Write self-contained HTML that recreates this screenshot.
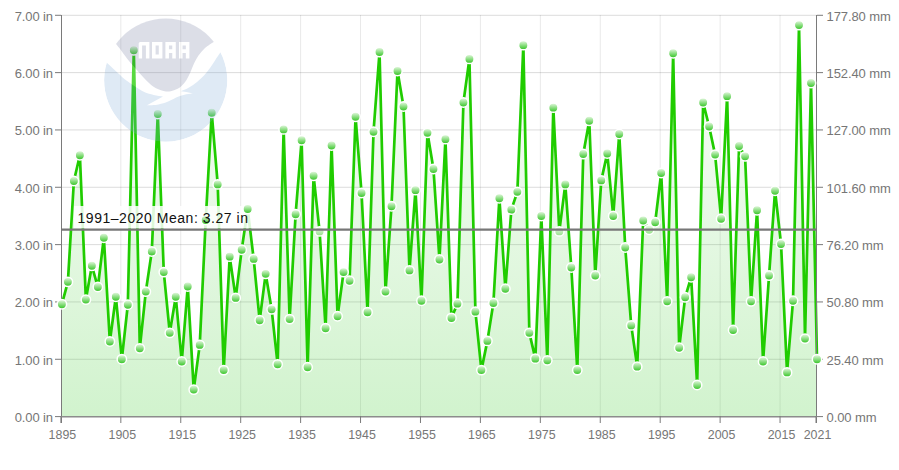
<!DOCTYPE html>
<html><head><meta charset="utf-8"><style>
html,body{margin:0;padding:0;background:#fff;}
svg{display:block;font-family:"Liberation Sans",sans-serif;}
.lab text{font-size:13px;fill:#767676;letter-spacing:-0.1px;}
.lab text.yl{font-size:12.4px;letter-spacing:0;}
</style></head><body>
<svg width="899" height="470" viewBox="0 0 899 470">
<defs>
<clipPath id="lc"><circle cx="165.7" cy="80.2" r="61.6"/></clipPath>
<linearGradient id="ag" x1="0" y1="0" x2="0" y2="1" gradientUnits="objectBoundingBox">
<stop offset="0" stop-color="#2ec81e" stop-opacity="0.02"/>
<stop offset="1" stop-color="#2ec81e" stop-opacity="0.22"/>
</linearGradient>
<linearGradient id="mg" x1="0" y1="0" x2="0" y2="1">
<stop offset="0" stop-color="#ecfae8"/>
<stop offset="1" stop-color="#2ec31e"/>
</linearGradient>
<linearGradient id="mg2" x1="0" y1="0" x2="0" y2="1">
<stop offset="0" stop-color="#f0fbee"/>
<stop offset="1" stop-color="#90de84"/>
</linearGradient>
</defs>
<rect width="899" height="470" fill="#fff"/>
<g stroke="#000" stroke-opacity="0.14" stroke-width="1"><line x1="61" x2="817" y1="359.27" y2="359.27"/><line x1="61" x2="817" y1="301.94" y2="301.94"/><line x1="61" x2="817" y1="244.61" y2="244.61"/><line x1="61" x2="817" y1="187.28" y2="187.28"/><line x1="61" x2="817" y1="129.95" y2="129.95"/><line x1="61" x2="817" y1="72.62" y2="72.62"/><line x1="61" x2="817" y1="15.29" y2="15.29"/><line x1="120.83" x2="120.83" y1="15" y2="416" stroke="#000" stroke-opacity="0.09"/><line x1="180.76" x2="180.76" y1="15" y2="416" stroke="#000" stroke-opacity="0.09"/><line x1="240.69" x2="240.69" y1="15" y2="416" stroke="#000" stroke-opacity="0.09"/><line x1="300.61" x2="300.61" y1="15" y2="416" stroke="#000" stroke-opacity="0.09"/><line x1="360.54" x2="360.54" y1="15" y2="416" stroke="#000" stroke-opacity="0.09"/><line x1="420.47" x2="420.47" y1="15" y2="416" stroke="#000" stroke-opacity="0.09"/><line x1="480.40" x2="480.40" y1="15" y2="416" stroke="#000" stroke-opacity="0.09"/><line x1="540.33" x2="540.33" y1="15" y2="416" stroke="#000" stroke-opacity="0.09"/><line x1="600.26" x2="600.26" y1="15" y2="416" stroke="#000" stroke-opacity="0.09"/><line x1="660.19" x2="660.19" y1="15" y2="416" stroke="#000" stroke-opacity="0.09"/><line x1="720.11" x2="720.11" y1="15" y2="416" stroke="#000" stroke-opacity="0.09"/><line x1="780.04" x2="780.04" y1="15" y2="416" stroke="#000" stroke-opacity="0.09"/></g>
<path d="M61.90 304.20 L67.89 281.85 L73.89 180.98 L79.88 155.19 L85.87 299.61 L91.86 265.80 L97.86 287.01 L103.85 237.72 L109.84 341.45 L115.84 296.75 L121.83 359.22 L127.82 304.77 L133.81 50.32 L139.81 348.33 L145.80 291.59 L151.79 251.47 L157.79 113.93 L163.78 272.11 L169.77 332.85 L175.76 296.75 L181.76 361.51 L187.75 286.43 L193.74 389.59 L199.74 344.89 L205.73 219.95 L211.72 112.78 L217.71 184.42 L223.71 370.11 L229.70 256.63 L235.69 297.90 L241.69 249.75 L247.68 209.06 L253.67 258.92 L259.66 320.25 L265.66 273.83 L271.65 309.36 L277.64 364.37 L283.64 129.40 L289.63 319.10 L295.62 214.22 L301.61 140.29 L307.61 367.24 L313.60 175.82 L319.59 231.42 L325.59 328.27 L331.58 145.45 L337.57 316.23 L343.56 272.11 L349.56 280.70 L355.55 116.80 L361.54 193.02 L367.54 312.22 L373.53 131.70 L379.52 52.04 L385.51 291.59 L391.51 206.20 L397.50 70.95 L403.49 106.48 L409.49 270.39 L415.48 190.15 L421.47 300.76 L427.46 132.84 L433.46 168.95 L439.45 259.50 L445.44 139.15 L451.44 317.95 L457.43 303.63 L463.42 102.47 L469.41 58.91 L475.41 311.65 L481.40 370.11 L487.39 340.88 L493.39 303.05 L499.38 198.18 L505.37 288.73 L511.36 209.64 L517.36 191.87 L523.35 45.16 L529.34 332.85 L535.34 358.64 L541.33 215.94 L547.32 360.36 L553.31 107.63 L559.31 231.42 L565.30 184.42 L571.29 267.52 L577.29 370.11 L583.28 154.05 L589.27 120.81 L595.26 275.54 L601.26 180.41 L607.25 153.47 L613.24 215.94 L619.24 133.99 L625.23 247.46 L631.22 325.40 L637.21 366.67 L643.21 220.53 L649.20 229.70 L655.19 222.25 L661.19 172.96 L667.18 301.33 L673.17 53.18 L679.16 347.75 L685.16 297.32 L691.15 277.26 L697.14 385.01 L703.14 102.47 L709.13 126.54 L715.12 154.62 L721.11 218.81 L727.11 96.16 L733.10 329.99 L739.09 146.02 L745.09 156.34 L751.08 301.33 L757.07 210.21 L763.06 361.51 L769.06 275.54 L775.05 190.73 L781.04 244.02 L787.04 372.40 L793.03 300.76 L799.02 25.10 L805.01 338.59 L811.01 82.98 L817.00 359.22 L817.00 417.10 L61.90 417.10 Z" fill="url(#ag)"/>
<path d="M61.90 304.20 L67.89 281.85 L73.89 180.98 L79.88 155.19 L85.87 299.61 L91.86 265.80 L97.86 287.01 L103.85 237.72 L109.84 341.45 L115.84 296.75 L121.83 359.22 L127.82 304.77 L133.81 50.32 L139.81 348.33 L145.80 291.59 L151.79 251.47 L157.79 113.93 L163.78 272.11 L169.77 332.85 L175.76 296.75 L181.76 361.51 L187.75 286.43 L193.74 389.59 L199.74 344.89 L205.73 219.95 L211.72 112.78 L217.71 184.42 L223.71 370.11 L229.70 256.63 L235.69 297.90 L241.69 249.75 L247.68 209.06 L253.67 258.92 L259.66 320.25 L265.66 273.83 L271.65 309.36 L277.64 364.37 L283.64 129.40 L289.63 319.10 L295.62 214.22 L301.61 140.29 L307.61 367.24 L313.60 175.82 L319.59 231.42 L325.59 328.27 L331.58 145.45 L337.57 316.23 L343.56 272.11 L349.56 280.70 L355.55 116.80 L361.54 193.02 L367.54 312.22 L373.53 131.70 L379.52 52.04 L385.51 291.59 L391.51 206.20 L397.50 70.95 L403.49 106.48 L409.49 270.39 L415.48 190.15 L421.47 300.76 L427.46 132.84 L433.46 168.95 L439.45 259.50 L445.44 139.15 L451.44 317.95 L457.43 303.63 L463.42 102.47 L469.41 58.91 L475.41 311.65 L481.40 370.11 L487.39 340.88 L493.39 303.05 L499.38 198.18 L505.37 288.73 L511.36 209.64 L517.36 191.87 L523.35 45.16 L529.34 332.85 L535.34 358.64 L541.33 215.94 L547.32 360.36 L553.31 107.63 L559.31 231.42 L565.30 184.42 L571.29 267.52 L577.29 370.11 L583.28 154.05 L589.27 120.81 L595.26 275.54 L601.26 180.41 L607.25 153.47 L613.24 215.94 L619.24 133.99 L625.23 247.46 L631.22 325.40 L637.21 366.67 L643.21 220.53 L649.20 229.70 L655.19 222.25 L661.19 172.96 L667.18 301.33 L673.17 53.18 L679.16 347.75 L685.16 297.32 L691.15 277.26 L697.14 385.01 L703.14 102.47 L709.13 126.54 L715.12 154.62 L721.11 218.81 L727.11 96.16 L733.10 329.99 L739.09 146.02 L745.09 156.34 L751.08 301.33 L757.07 210.21 L763.06 361.51 L769.06 275.54 L775.05 190.73 L781.04 244.02 L787.04 372.40 L793.03 300.76 L799.02 25.10 L805.01 338.59 L811.01 82.98 L817.00 359.22" fill="none" stroke="#20cc00" stroke-width="2.7" stroke-linejoin="round" stroke-linecap="round"/>
<g stroke="#7a7a7a" stroke-width="1">
<line x1="61.5" x2="61.5" y1="15" y2="423"/>
<line x1="816.5" x2="816.5" y1="15" y2="423"/>
<line x1="61" x2="817" y1="416.7" y2="416.7" stroke-width="1.5" stroke="#8c8c8c"/>
<line x1="55" x2="61" y1="416.6" y2="416.6"/><line x1="817" x2="823" y1="416.6" y2="416.6"/><line x1="55" x2="61" y1="359.27" y2="359.27"/><line x1="817" x2="823" y1="359.27" y2="359.27"/><line x1="55" x2="61" y1="301.94" y2="301.94"/><line x1="817" x2="823" y1="301.94" y2="301.94"/><line x1="55" x2="61" y1="244.61" y2="244.61"/><line x1="817" x2="823" y1="244.61" y2="244.61"/><line x1="55" x2="61" y1="187.28" y2="187.28"/><line x1="817" x2="823" y1="187.28" y2="187.28"/><line x1="55" x2="61" y1="129.95" y2="129.95"/><line x1="817" x2="823" y1="129.95" y2="129.95"/><line x1="55" x2="61" y1="72.62" y2="72.62"/><line x1="817" x2="823" y1="72.62" y2="72.62"/><line x1="55" x2="61" y1="15.29" y2="15.29"/><line x1="817" x2="823" y1="15.29" y2="15.29"/><line x1="60.90" x2="60.90" y1="416" y2="423"/><line x1="120.83" x2="120.83" y1="416" y2="423"/><line x1="180.76" x2="180.76" y1="416" y2="423"/><line x1="240.69" x2="240.69" y1="416" y2="423"/><line x1="300.61" x2="300.61" y1="416" y2="423"/><line x1="360.54" x2="360.54" y1="416" y2="423"/><line x1="420.47" x2="420.47" y1="416" y2="423"/><line x1="480.40" x2="480.40" y1="416" y2="423"/><line x1="540.33" x2="540.33" y1="416" y2="423"/><line x1="600.26" x2="600.26" y1="416" y2="423"/><line x1="660.19" x2="660.19" y1="416" y2="423"/><line x1="720.11" x2="720.11" y1="416" y2="423"/><line x1="780.04" x2="780.04" y1="416" y2="423"/><line x1="816.00" x2="816.00" y1="416" y2="423"/>
</g>
<rect x="74" y="206" width="179" height="22.5" fill="#fff" fill-opacity="0.85"/>
<g fill="url(#mg)" stroke="#fff" stroke-width="1.5"><circle cx="61.90" cy="304.20" r="4.7"/><circle cx="67.89" cy="281.85" r="4.7"/><circle cx="73.89" cy="180.98" r="4.7"/><circle cx="79.88" cy="155.19" r="4.7"/><circle cx="85.87" cy="299.61" r="4.7"/><circle cx="91.86" cy="265.80" r="4.7"/><circle cx="97.86" cy="287.01" r="4.7"/><circle cx="103.85" cy="237.72" r="4.7"/><circle cx="109.84" cy="341.45" r="4.7"/><circle cx="115.84" cy="296.75" r="4.7"/><circle cx="121.83" cy="359.22" r="4.7"/><circle cx="127.82" cy="304.77" r="4.7"/><circle cx="133.81" cy="50.32" r="4.7"/><circle cx="139.81" cy="348.33" r="4.7"/><circle cx="145.80" cy="291.59" r="4.7"/><circle cx="151.79" cy="251.47" r="4.7"/><circle cx="157.79" cy="113.93" r="4.7"/><circle cx="163.78" cy="272.11" r="4.7"/><circle cx="169.77" cy="332.85" r="4.7"/><circle cx="175.76" cy="296.75" r="4.7"/><circle cx="181.76" cy="361.51" r="4.7"/><circle cx="187.75" cy="286.43" r="4.7"/><circle cx="193.74" cy="389.59" r="4.7"/><circle cx="199.74" cy="344.89" r="4.7"/><circle cx="205.73" cy="219.95" r="4.7"/><circle cx="211.72" cy="112.78" r="4.7"/><circle cx="217.71" cy="184.42" r="4.7"/><circle cx="223.71" cy="370.11" r="4.7"/><circle cx="229.70" cy="256.63" r="4.7"/><circle cx="235.69" cy="297.90" r="4.7"/><circle cx="241.69" cy="249.75" r="4.7"/><circle cx="247.68" cy="209.06" r="4.7"/><circle cx="253.67" cy="258.92" r="4.7"/><circle cx="259.66" cy="320.25" r="4.7"/><circle cx="265.66" cy="273.83" r="4.7"/><circle cx="271.65" cy="309.36" r="4.7"/><circle cx="277.64" cy="364.37" r="4.7"/><circle cx="283.64" cy="129.40" r="4.7"/><circle cx="289.63" cy="319.10" r="4.7"/><circle cx="295.62" cy="214.22" r="4.7"/><circle cx="301.61" cy="140.29" r="4.7"/><circle cx="307.61" cy="367.24" r="4.7"/><circle cx="313.60" cy="175.82" r="4.7"/><circle cx="319.59" cy="231.42" r="4.7" fill="url(#mg2)"/><circle cx="325.59" cy="328.27" r="4.7"/><circle cx="331.58" cy="145.45" r="4.7"/><circle cx="337.57" cy="316.23" r="4.7"/><circle cx="343.56" cy="272.11" r="4.7"/><circle cx="349.56" cy="280.70" r="4.7"/><circle cx="355.55" cy="116.80" r="4.7"/><circle cx="361.54" cy="193.02" r="4.7"/><circle cx="367.54" cy="312.22" r="4.7"/><circle cx="373.53" cy="131.70" r="4.7"/><circle cx="379.52" cy="52.04" r="4.7"/><circle cx="385.51" cy="291.59" r="4.7"/><circle cx="391.51" cy="206.20" r="4.7"/><circle cx="397.50" cy="70.95" r="4.7"/><circle cx="403.49" cy="106.48" r="4.7"/><circle cx="409.49" cy="270.39" r="4.7"/><circle cx="415.48" cy="190.15" r="4.7"/><circle cx="421.47" cy="300.76" r="4.7"/><circle cx="427.46" cy="132.84" r="4.7"/><circle cx="433.46" cy="168.95" r="4.7"/><circle cx="439.45" cy="259.50" r="4.7"/><circle cx="445.44" cy="139.15" r="4.7"/><circle cx="451.44" cy="317.95" r="4.7"/><circle cx="457.43" cy="303.63" r="4.7"/><circle cx="463.42" cy="102.47" r="4.7"/><circle cx="469.41" cy="58.91" r="4.7"/><circle cx="475.41" cy="311.65" r="4.7"/><circle cx="481.40" cy="370.11" r="4.7"/><circle cx="487.39" cy="340.88" r="4.7"/><circle cx="493.39" cy="303.05" r="4.7"/><circle cx="499.38" cy="198.18" r="4.7"/><circle cx="505.37" cy="288.73" r="4.7"/><circle cx="511.36" cy="209.64" r="4.7"/><circle cx="517.36" cy="191.87" r="4.7"/><circle cx="523.35" cy="45.16" r="4.7"/><circle cx="529.34" cy="332.85" r="4.7"/><circle cx="535.34" cy="358.64" r="4.7"/><circle cx="541.33" cy="215.94" r="4.7"/><circle cx="547.32" cy="360.36" r="4.7"/><circle cx="553.31" cy="107.63" r="4.7"/><circle cx="559.31" cy="231.42" r="4.7" fill="url(#mg2)"/><circle cx="565.30" cy="184.42" r="4.7"/><circle cx="571.29" cy="267.52" r="4.7"/><circle cx="577.29" cy="370.11" r="4.7"/><circle cx="583.28" cy="154.05" r="4.7"/><circle cx="589.27" cy="120.81" r="4.7"/><circle cx="595.26" cy="275.54" r="4.7"/><circle cx="601.26" cy="180.41" r="4.7"/><circle cx="607.25" cy="153.47" r="4.7"/><circle cx="613.24" cy="215.94" r="4.7"/><circle cx="619.24" cy="133.99" r="4.7"/><circle cx="625.23" cy="247.46" r="4.7"/><circle cx="631.22" cy="325.40" r="4.7"/><circle cx="637.21" cy="366.67" r="4.7"/><circle cx="643.21" cy="220.53" r="4.7"/><circle cx="649.20" cy="229.70" r="4.7" fill="url(#mg2)"/><circle cx="655.19" cy="222.25" r="4.7"/><circle cx="661.19" cy="172.96" r="4.7"/><circle cx="667.18" cy="301.33" r="4.7"/><circle cx="673.17" cy="53.18" r="4.7"/><circle cx="679.16" cy="347.75" r="4.7"/><circle cx="685.16" cy="297.32" r="4.7"/><circle cx="691.15" cy="277.26" r="4.7"/><circle cx="697.14" cy="385.01" r="4.7"/><circle cx="703.14" cy="102.47" r="4.7"/><circle cx="709.13" cy="126.54" r="4.7"/><circle cx="715.12" cy="154.62" r="4.7"/><circle cx="721.11" cy="218.81" r="4.7"/><circle cx="727.11" cy="96.16" r="4.7"/><circle cx="733.10" cy="329.99" r="4.7"/><circle cx="739.09" cy="146.02" r="4.7"/><circle cx="745.09" cy="156.34" r="4.7"/><circle cx="751.08" cy="301.33" r="4.7"/><circle cx="757.07" cy="210.21" r="4.7"/><circle cx="763.06" cy="361.51" r="4.7"/><circle cx="769.06" cy="275.54" r="4.7"/><circle cx="775.05" cy="190.73" r="4.7"/><circle cx="781.04" cy="244.02" r="4.7"/><circle cx="787.04" cy="372.40" r="4.7"/><circle cx="793.03" cy="300.76" r="4.7"/><circle cx="799.02" cy="25.10" r="4.7"/><circle cx="805.01" cy="338.59" r="4.7"/><circle cx="811.01" cy="82.98" r="4.7"/><circle cx="817.00" cy="359.22" r="4.7"/></g>
<line x1="61" x2="817" y1="229.7" y2="229.7" stroke="#777" stroke-width="2.2"/>
<text x="77.5" y="222.8" font-size="14" fill="#111" letter-spacing="0.53">1991–2020 Mean: 3.27 in</text>
<g class="lab"><text x="53" y="422.0" text-anchor="end">0.00 in</text><text x="826.5" y="422.0">0.00 mm</text><text x="53" y="364.7" text-anchor="end">1.00 in</text><text x="826.5" y="364.7">25.40 mm</text><text x="53" y="307.3" text-anchor="end">2.00 in</text><text x="826.5" y="307.3">50.80 mm</text><text x="53" y="250.0" text-anchor="end">3.00 in</text><text x="826.5" y="250.0">76.20 mm</text><text x="53" y="192.7" text-anchor="end">4.00 in</text><text x="826.5" y="192.7">101.60 mm</text><text x="53" y="135.4" text-anchor="end">5.00 in</text><text x="826.5" y="135.4">127.00 mm</text><text x="53" y="78.0" text-anchor="end">6.00 in</text><text x="826.5" y="78.0">152.40 mm</text><text x="53" y="20.7" text-anchor="end">7.00 in</text><text x="826.5" y="20.7">177.80 mm</text><text class="yl" x="62.4" y="438.9" text-anchor="middle">1895</text><text class="yl" x="122.3" y="438.9" text-anchor="middle">1905</text><text class="yl" x="182.3" y="438.9" text-anchor="middle">1915</text><text class="yl" x="242.2" y="438.9" text-anchor="middle">1925</text><text class="yl" x="302.1" y="438.9" text-anchor="middle">1935</text><text class="yl" x="362.0" y="438.9" text-anchor="middle">1945</text><text class="yl" x="422.0" y="438.9" text-anchor="middle">1955</text><text class="yl" x="481.9" y="438.9" text-anchor="middle">1965</text><text class="yl" x="541.8" y="438.9" text-anchor="middle">1975</text><text class="yl" x="601.8" y="438.9" text-anchor="middle">1985</text><text class="yl" x="661.7" y="438.9" text-anchor="middle">1995</text><text class="yl" x="721.6" y="438.9" text-anchor="middle">2005</text><text class="yl" x="781.5" y="438.9" text-anchor="middle">2015</text><text class="yl" x="817.5" y="438.9" text-anchor="middle">2021</text></g>

<g clip-path="url(#lc)" opacity="0.25">
<circle cx="165.7" cy="80.2" r="61.6" fill="rgb(127,171,215)"/>
<path fill="#fff" d="M230 40 L220 53.1 C219.17 54.33 216.67 58.02 215.00 60.50 C213.33 62.98 211.83 65.50 210.00 68.00 C208.17 70.50 206.17 73.17 204.00 75.50 C201.83 77.83 199.50 80.00 197.00 82.00 C194.50 84.00 191.67 85.97 189.00 87.50 C186.33 89.03 182.33 90.58 181.00 91.20 L186.3 92 L193 93.5 C191.88 93.62 188.70 93.68 186.30 94.20 C183.90 94.72 181.63 95.37 178.60 96.60 C175.57 97.83 171.45 100.28 168.10 101.60 C164.75 102.92 162.08 103.87 158.50 104.50 C154.92 105.13 148.58 105.25 146.60 105.40 L163 96.5 C161.45 96.23 156.83 95.65 153.70 94.90 C150.57 94.15 147.38 93.43 144.20 92.00 C141.02 90.57 137.80 88.37 134.60 86.30 C131.40 84.23 127.60 81.65 125.00 79.60 C122.40 77.55 121.00 75.85 119.00 74.00 C117.00 72.15 115.08 70.42 113.00 68.50 C110.92 66.58 109.00 64.58 106.50 62.50 C104.00 60.42 99.42 57.08 98.00 56.00 L98 10 L230 10 Z"/>
<path fill="rgb(115,123,160)" d="M115.8 43.8 C116.67 44.87 119.13 47.77 121.00 50.20 C122.87 52.63 124.83 55.63 127.00 58.40 C129.17 61.17 131.67 64.07 134.00 66.80 C136.33 69.53 138.58 72.18 141.00 74.80 C143.42 77.42 146.00 80.25 148.50 82.50 C151.00 84.75 153.08 86.80 156.00 88.30 C158.92 89.80 163.00 91.18 166.00 91.50 C169.00 91.82 171.50 91.03 174.00 90.20 C176.50 89.37 178.92 88.20 181.00 86.50 C183.08 84.80 184.92 82.42 186.50 80.00 C188.08 77.58 189.25 74.75 190.50 72.00 C191.75 69.25 192.67 66.25 194.00 63.50 C195.33 60.75 196.67 58.08 198.50 55.50 C200.33 52.92 202.48 50.25 205.00 48.00 C207.52 45.75 212.17 43.00 213.60 42.00 L240 0 L90 0 Z"/>
<path fill="#fff" fill-rule="evenodd" d="M138.7 58.4 V43.5 Q138.7 42.0 140.2 42.0 H149.4 V58.4 H145.9 V45.6 H142.1 V58.4 ZM152 42.0h10.4v16.4h-10.4ZM155.6 45.6h3.2v8.9h-3.2ZM165.4 42.0h10.4v16.4h-10.4ZM168.95 45.6h3.3v3.6h-3.3ZM168.95 53.0h3.3v5.4h-3.3ZM179.0 42.0h10.4v16.4h-10.4ZM182.55 45.6h3.3v3.6h-3.3ZM182.55 53.0h3.3v5.4h-3.3Z"/>
</g>

</svg>
</body></html>
